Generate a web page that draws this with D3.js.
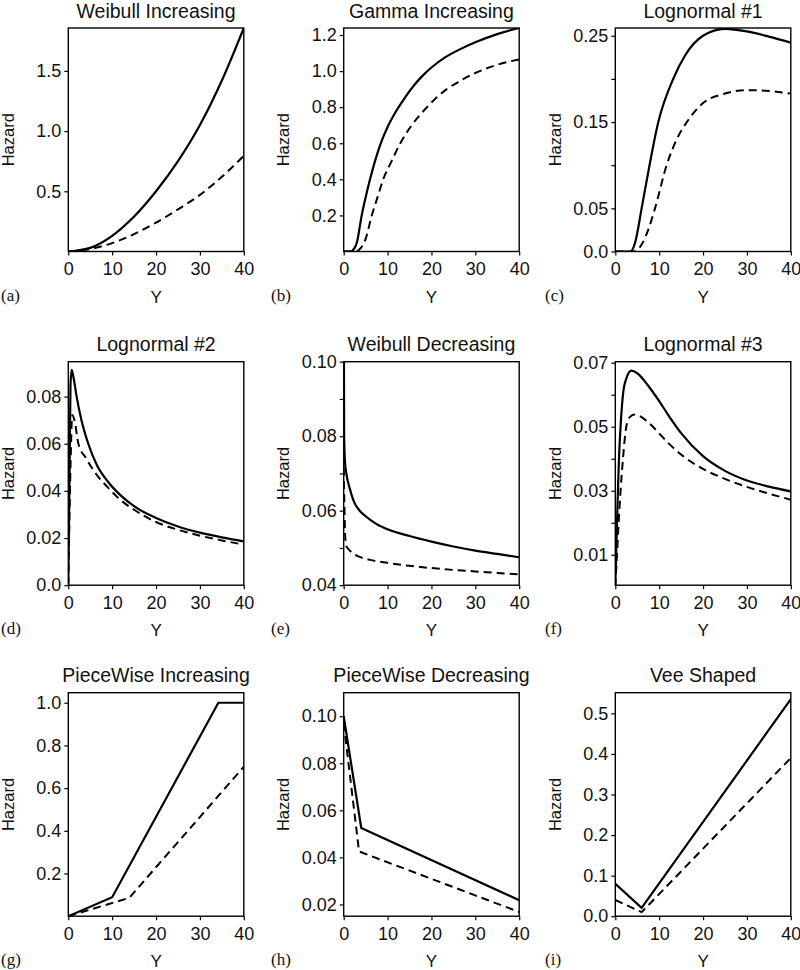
<!DOCTYPE html>
<html><head><meta charset="utf-8">
<script src="https://cdn.jsdelivr.net/npm/d3@7"></script>
<style>body{margin:0;background:#fff} svg{display:block}</style>
</head><body>
<svg id="c" width="800" height="970"></svg>
<script>
// ---------------- DATA ----------------
const titles = ["Weibull Increasing","Gamma Increasing","Lognormal #1","Lognormal #2","Weibull Decreasing","Lognormal #3","PieceWise Increasing","PieceWise Decreasing","Vee Shaped"];
const letters = ["(a)","(b)","(c)","(d)","(e)","(f)","(g)","(h)","(i)"];
const xTicks = [0,10,20,30,40];
const xDomain = [0,40];

// (a) Weibull Increasing
const aSolidT = [0,5,10,15,20,25,30,35,40];
const aSolid  = [0,0.03,0.13,0.29,0.50,0.75,1.05,1.42,1.856];
const aDashT  = [0,5,10,15,20,25,30,35,40];
const aDash   = [0,0.02,0.07,0.145,0.24,0.35,0.47,0.62,0.794];
const aYTicks = [0.5,1.0,1.5];
const aYLabels = ["0.5","1.0","1.5"];
const aYDomain = [0,1.856];

// (b) Gamma Increasing
const bSolidT = [0,1.5,2.5,3,4.1,5,6,7,8.3,10,12,14,16,18,20,23,26,30,35,40];
const bSolid  = [0,0,0.02,0.05,0.2,0.3,0.4,0.49,0.59,0.69,0.78,0.855,0.92,0.975,1.02,1.075,1.115,1.16,1.205,1.239];
const bDashT  = [0,2.5,3.5,5,6.4,7.7,9,10.9,12.9,15.5,18.6,21,23.5,26.5,29.6,35,40];
const bDash   = [0,0,0.01,0.07,0.2,0.3,0.4,0.5,0.6,0.7,0.79,0.85,0.9,0.945,0.985,1.035,1.065];
const bYTicks = [0.2,0.4,0.6,0.8,1.0,1.2];
const bYLabels = ["0.2","0.4","0.6","0.8","1.0","1.2"];
const bYDomain = [0,1.239];

// (c) Lognormal #1
const cSolidT = [0,3.5,4.5,6,7.8,9.8,13.2,16,20,25,30,35,40];
const cSolid  = [0,0,0.01,0.05,0.1,0.15,0.2,0.228,0.25,0.258,0.255,0.249,0.242];
const cDashT  = [0,4.5,6,7.5,9.05,11.7,14,16.3,20,25,30,35,40];
const cDash   = [0,0,0.008,0.025,0.05,0.1,0.13,0.15,0.172,0.183,0.187,0.186,0.183];
const cYTicks = [0,0.05,0.10,0.15,0.20,0.25];
const cYLabels = ["0.0","0.05","","0.15","","0.25"];
const cYDomain = [0,0.259];

// (d) Lognormal #2
const dSolidT = [0,0.3,0.5,0.76,1.2,1.9,3,4.55,6.5,9,12,15,20,25,30,35,40];
const dSolid  = [0,0.05,0.085,0.0913,0.088,0.08,0.07,0.06,0.051,0.044,0.038,0.0335,0.0285,0.0249,0.0223,0.0203,0.0186];
const dDashT  = [0,0.5,0.9,1.4,2.3,4,6,9,12,15,20,25,30,35,40];
const dDash   = [0,0.05,0.0722,0.07,0.06,0.054,0.048,0.0415,0.036,0.032,0.0268,0.0235,0.021,0.019,0.0172];
const dYTicks = [0,0.02,0.04,0.06,0.08];
const dYLabels = ["0.0","0.02","0.04","0.06","0.08"];
const dYDomain = [0,0.0948];

// (e) Weibull Decreasing
const eSolidT = [0.02,0.1,0.3,0.6,1.37,2.3,3.65,5,7.5,10,15,20,25,30,35,40];
const eSolid  = [0.12,0.08,0.073,0.07,0.066,0.0625,0.06,0.0585,0.0564,0.055,0.0532,0.0517,0.0504,0.0493,0.0484,0.0475];
const eDashT  = [0,0.15,0.35,0.6,1,2,3.65,6,10,15,20,25,30,35,40];
const eDash   = [0.0715,0.062,0.053,0.0505,0.0498,0.0486,0.0476,0.0468,0.046,0.0452,0.0446,0.0441,0.0437,0.0433,0.0429];
const eYTicks = [0.04,0.05,0.06,0.07,0.08,0.09,0.10];
const eYLabels = ["0.04","","0.06","","0.08","","0.10"];
const eYDomain = [0.04,0.10];

// (f) Lognormal #3
const fSolidT = [0,0.38,0.6,0.84,1.2,1.75,2.5,3.65,5,7.5,10,12,15,20,25,30,35,40];
const fSolid  = [0,0.02,0.03,0.04,0.05,0.06,0.065,0.0675,0.0667,0.0628,0.058,0.0538,0.048,0.0408,0.0362,0.0332,0.0313,0.0298];
const fDashT  = [0,0.38,0.76,1.2,1.75,2.5,3.3,4.4,6,7.5,10,12,15,20,25,30,35,40];
const fDash   = [0,0.01,0.02,0.03,0.04,0.05,0.053,0.0538,0.053,0.0514,0.0479,0.045,0.0413,0.0368,0.0337,0.0312,0.0291,0.0272];
const fYTicks = [0.01,0.02,0.03,0.04,0.05,0.06,0.07];
const fYLabels = ["0.01","","0.03","","0.05","","0.07"];
const fYDomain = [0.0005,0.0703];

// (g) PieceWise Increasing
const gSolidT = [0,10,34.2,40];
const gSolid  = [0,0.089,1.0,1.0];
const gDashT  = [0,13.9,40];
const gDash   = [0,0.086,0.70];
const gYTicks = [0.2,0.4,0.6,0.8,1.0];
const gYLabels = ["0.2","0.4","0.6","0.8","1.0"];
const gYDomain = [0,1.047];

// (h) PieceWise Decreasing
const hSolidT = [0,4,40];
const hSolid  = [0.1,0.0525,0.0218];
const hDashT  = [0,3.5,40];
const hDash   = [0.097,0.0425,0.0168];
const hYTicks = [0.02,0.04,0.06,0.08,0.10];
const hYLabels = ["0.02","0.04","0.06","0.08","0.10"];
const hYDomain = [0.015,0.110];

// (i) Vee Shaped
const iSolidT = [0,6,40];
const iSolid  = [0.08,0.0205,0.535];
const iDashT  = [0,6,40];
const iDash   = [0.04,0.01,0.39];
const iYTicks = [0,0.1,0.2,0.3,0.4,0.5];
const iYLabels = ["0.0","0.1","0.2","0.3","0.4","0.5"];
const iYDomain = [0,0.551];

// ---------------- LAYOUT ----------------
const panels = [
  {sT:aSolidT,s:aSolid,dT:aDashT,d:aDash,yt:aYTicks,yl:aYLabels,yd:aYDomain,curve:d3.curveMonotoneX},
  {sT:bSolidT,s:bSolid,dT:bDashT,d:bDash,yt:bYTicks,yl:bYLabels,yd:bYDomain,curve:d3.curveMonotoneX},
  {sT:cSolidT,s:cSolid,dT:cDashT,d:cDash,yt:cYTicks,yl:cYLabels,yd:cYDomain,curve:d3.curveMonotoneX},
  {sT:dSolidT,s:dSolid,dT:dDashT,d:dDash,yt:dYTicks,yl:dYLabels,yd:dYDomain,curve:d3.curveMonotoneX},
  {sT:eSolidT,s:eSolid,dT:eDashT,d:eDash,yt:eYTicks,yl:eYLabels,yd:eYDomain,curve:d3.curveMonotoneX},
  {sT:fSolidT,s:fSolid,dT:fDashT,d:fDash,yt:fYTicks,yl:fYLabels,yd:fYDomain,curve:d3.curveMonotoneX},
  {sT:gSolidT,s:gSolid,dT:gDashT,d:gDash,yt:gYTicks,yl:gYLabels,yd:gYDomain,curve:d3.curveLinear},
  {sT:hSolidT,s:hSolid,dT:hDashT,d:hDash,yt:hYTicks,yl:hYLabels,yd:hYDomain,curve:d3.curveLinear},
  {sT:iSolidT,s:iSolid,dT:iDashT,d:iDash,yt:iYTicks,yl:iYLabels,yd:iYDomain,curve:d3.curveLinear}
];
const colLeft = [68.3, 343.7, 615.3];
const rowTop = [28, 361.7, 692.7];
const letterX = [1, 271, 545];
const PW = 175.5, PH = 223.5;
const sans = "'Liberation Sans', Arial, Helvetica, sans-serif";
const serif = "'Liberation Serif', 'Times New Roman', serif";

const svg = d3.select("#c");

panels.forEach((p, idx) => {
  const col = idx % 3, row = Math.floor(idx / 3);
  const L = colLeft[col], T = rowTop[row];
  const g = svg.append("g").attr("transform", `translate(${L},${T})`);
  const x = d3.scaleLinear().domain(xDomain).range([0, PW]);
  const y = d3.scaleLinear().domain(p.yd).range([PH, 0]);

  const clipId = "clip" + idx;
  g.append("clipPath").attr("id", clipId).append("rect")
    .attr("x", 0).attr("y", 0).attr("width", PW).attr("height", PH);

  const line = d3.line().x(d => x(d[0])).y(d => y(d[1])).curve(p.curve);
  const solidPts = p.sT.map((t, i) => [t, p.s[i]]);
  const dashPts = p.dT.map((t, i) => [t, p.d[i]]);

  const lines = g.append("g").attr("clip-path", `url(#${clipId})`);
  lines.append("path").datum(dashPts).attr("d", line)
    .attr("fill", "none").attr("stroke", "#000").attr("stroke-width", 2)
    .attr("stroke-dasharray", "8,5");
  lines.append("path").datum(solidPts).attr("d", line)
    .attr("fill", "none").attr("stroke", "#000").attr("stroke-width", 2.2);

  // frame
  g.append("rect").attr("x", 0).attr("y", 0).attr("width", PW).attr("height", PH)
    .attr("fill", "none").attr("stroke", "#000").attr("stroke-width", 1.4);

  // x axis
  const xa = g.append("g").attr("transform", `translate(0,${PH})`)
    .call(d3.axisBottom(x).tickValues(xTicks).tickSize(4).tickSizeOuter(0).tickPadding(7).tickFormat(d3.format("d")));
  xa.select(".domain").remove();
  xa.selectAll("line").attr("stroke-width", 1.2);
  xa.selectAll("text").attr("font-family", sans).attr("font-size", 18).attr("fill", "#111");

  // y axis
  const ya = g.append("g")
    .call(d3.axisLeft(y).tickValues(p.yt).tickSize(4).tickSizeOuter(0).tickPadding(3)
      .tickFormat((d, i) => p.yl[i]));
  ya.select(".domain").remove();
  ya.selectAll("line").attr("stroke-width", 1.2);
  ya.selectAll("text").attr("font-family", sans).attr("font-size", 18).attr("fill", "#111");

  // title
  g.append("text").attr("x", PW / 2).attr("y", -10.5).attr("text-anchor", "middle")
    .attr("font-family", sans).attr("font-size", 19.5).attr("fill", "#111").text(titles[idx]);

  // axis titles
  g.append("text").attr("x", PW / 2).attr("y", PH + 51).attr("text-anchor", "middle")
    .attr("font-family", sans).attr("font-size", 17).attr("fill", "#111").text("Y");
  g.append("text").attr("transform", `translate(-60,${PH / 2}) rotate(-90)`)
    .attr("dy", "0.35em").attr("text-anchor", "middle")
    .attr("font-family", sans).attr("font-size", 16.5).attr("fill", "#111").text("Hazard");

  // panel letter
  svg.append("text").attr("x", letterX[col]).attr("y", T + PH + 49)
    .attr("font-family", serif).attr("font-size", 17).attr("fill", "#111").text(letters[idx]);
});
</script>
</body></html>
